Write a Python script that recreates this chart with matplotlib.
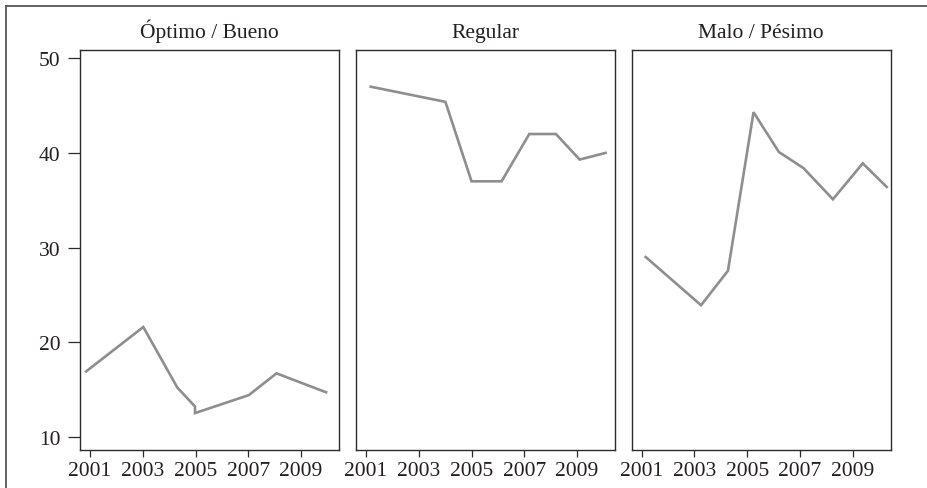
import matplotlib
matplotlib.use("Agg")
import matplotlib.pyplot as plt
from matplotlib.lines import Line2D

plt.rcParams['font.family'] = ['Liberation Serif', 'DejaVu Serif']

# Panel titles
panel_titles = ["Óptimo / Bueno", "Regular", "Malo / Pésimo"]

# Survey dates (fractional years) and percentages per panel
years_bueno = [2000.85, 2003.02, 2004.31, 2004.98, 2004.98, 2007.02, 2008.07, 2009.95]
vals_bueno = [16.9, 21.6, 15.2, 13.2, 12.5, 14.4, 16.7, 14.7]

years_regular = [2001.18, 2004.01, 2005.00, 2006.14, 2007.19, 2008.20, 2009.10, 2010.08]
vals_regular = [47.0, 45.4, 37.0, 37.0, 42.0, 42.0, 39.3, 40.0]

years_malo = [2001.15, 2003.25, 2004.27, 2005.24, 2006.20, 2007.13, 2008.25, 2009.38, 2010.29]
vals_malo = [29.0, 23.9, 27.55, 44.3, 40.1, 38.4, 35.1, 38.9, 36.4]

x_ticks = [2001, 2003, 2005, 2007, 2009]
y_ticks = [10, 20, 30, 40, 50]

series = [(years_bueno, vals_bueno), (years_regular, vals_regular), (years_malo, vals_malo)]

W, H = 927, 489
fig = plt.figure(figsize=(W / 100, H / 100), dpi=100)

text_color = "#231f20"
line_color = "#8e8e8e"
spine_color = "#2b2b2b"

lefts = [80, 356, 631.7]
ax_w = 259
ax_top, ax_bot = 51, 450.7

for i, (title, (xs, ys)) in enumerate(zip(panel_titles, series)):
    ax = fig.add_axes([lefts[i] / W, 1 - ax_bot / H, ax_w / W, (ax_bot - ax_top) / H])
    ax.plot(xs, ys, color=line_color, lw=1.9, solid_joinstyle='miter')
    ax.set_xlim(2000.62, 2010.44)
    ax.set_ylim(8.63, 50.88)
    ax.set_xticks(x_ticks)
    ax.set_xticklabels([str(t) for t in x_ticks])
    ax.tick_params(axis='x', length=5, width=0.9, color=spine_color,
                   labelsize=15.5, labelcolor=text_color, pad=3)
    if i == 0:
        ax.set_yticks(y_ticks)
        ax.tick_params(axis='y', length=9, width=0.9, color=spine_color,
                       labelsize=15.5, labelcolor=text_color, pad=5)
    else:
        ax.set_yticks([])
    for sp in ax.spines.values():
        sp.set_color(spine_color)
        sp.set_linewidth(1.0)
    ax.set_title(title, fontsize=15.5, color=text_color, pad=9)

# Outer frame: top and left rules
fig.add_artist(Line2D([5.7 / W, 1.0], [1 - 6.7 / H, 1 - 6.7 / H],
                      transform=fig.transFigure, color="#555555", lw=1.3))
fig.add_artist(Line2D([5.7 / W, 5.7 / W], [0.0, 1 - 6.7 / H],
                      transform=fig.transFigure, color="#555555", lw=1.3))

fig.savefig("out.png", dpi=100)
